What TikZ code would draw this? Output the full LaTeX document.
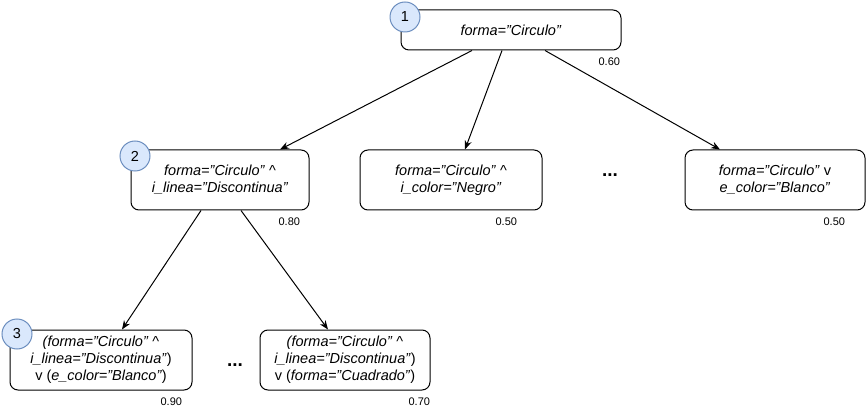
\documentclass[tikz,border=0pt]{standalone}
\usepackage{fontspec}
\setmainfont{Liberation Sans}
\usetikzlibrary{arrows.meta}

\definecolor{numfill}{HTML}{DAE8FC}
\definecolor{numdraw}{HTML}{6C8EBF}

\begin{document}
\begin{tikzpicture}[x=1pt,y=-1pt, line width=1pt,
    caja/.style={draw, rounded corners=8pt, align=center, inner sep=0pt,
        minimum height=60pt, font=\fontsize{14.5}{17}\selectfont},
    num/.style={circle, draw=numdraw, fill=numfill, minimum size=30pt,
        inner sep=0pt, font=\fontsize{14.5}{17}\selectfont},
    prob/.style={anchor=north east, inner sep=0pt, font=\fontsize{11}{13}\selectfont},
    puntos/.style={font=\fontsize{19}{19}\selectfont\bfseries},
    flecha/.style={-{Stealth[length=9pt,width=7pt]}}
]
    \useasboundingbox (0,0) rectangle (866,411);

    % Level 1
    \node[caja, minimum width=220pt, minimum height=40pt] (raiz) at (511,30)
        {\textit{forma="Circulo"}};

    % Level 2
    \node[caja, minimum width=178pt] (linea) at (220,180)
        {\textit{forma="Circulo"} \textasciicircum\\ \textit{i\_linea="Discontinua"}};
    \node[caja, minimum width=182pt] (color) at (451,180)
        {\textit{forma="Circulo"} \textasciicircum\\ \textit{i\_color="Negro"}};
    \node[puntos] (dots1) at (610,175) {...};
    \node[caja, minimum width=180pt] (blanco) at (775,180)
        {\textit{forma="Circulo"} v\\ \textit{e\_color="Blanco"}};

    % Level 3
    \node[caja, minimum width=182pt] (ecolor) at (101,360)
        {\textit{(forma="Circulo"} \textasciicircum\\ \textit{i\_linea="Discontinua"})\\ v (\textit{e\_color="Blanco"})};
    \node[puntos] (dots2) at (235,365) {...};
    \node[caja, minimum width=170pt] (cuadrado) at (345,360)
        {\textit{(forma="Circulo"} \textasciicircum\\ \textit{i\_linea="Discontinua"})\\ v (\textit{forma="Cuadrado"})};

    % Step numbers
    \node[num] (n1) at (405,17) {1};
    \node[num] (n2) at (135,156) {2};
    \node[num] (n3) at (17,334) {3};

    % Scores
    \node[prob] (p1) at ([shift={(-1,7)}]raiz.south east) {0.60};
    \node[prob] (p2) at ([shift={(-9,7)}]linea.south east) {0.80};
    \node[prob] (p3) at ([shift={(-25,7)}]color.south east) {0.50};
    \node[prob] (p4) at ([shift={(-20,7)}]blanco.south east) {0.50};
    \node[prob] (p5) at ([shift={(-10,7)}]ecolor.south east) {0.90};
    \node[prob] (p6) at ([shift={(0,7)}]cuadrado.south east) {0.70};

    % Arrows
    \draw[flecha] ([xshift=-39pt]raiz.south) -- ([xshift=60pt]linea.north);
    \draw[flecha] ([xshift=-9pt]raiz.south) -- ([xshift=14pt]color.north);
    \draw[flecha] ([xshift=34pt]raiz.south) -- ([xshift=-55pt]blanco.north);
    \draw[flecha] ([xshift=-19pt]linea.south) -- ([xshift=21pt]ecolor.north);
    \draw[flecha] ([xshift=21pt]linea.south) -- ([xshift=-17pt]cuadrado.north);

\end{tikzpicture}
\end{document}
